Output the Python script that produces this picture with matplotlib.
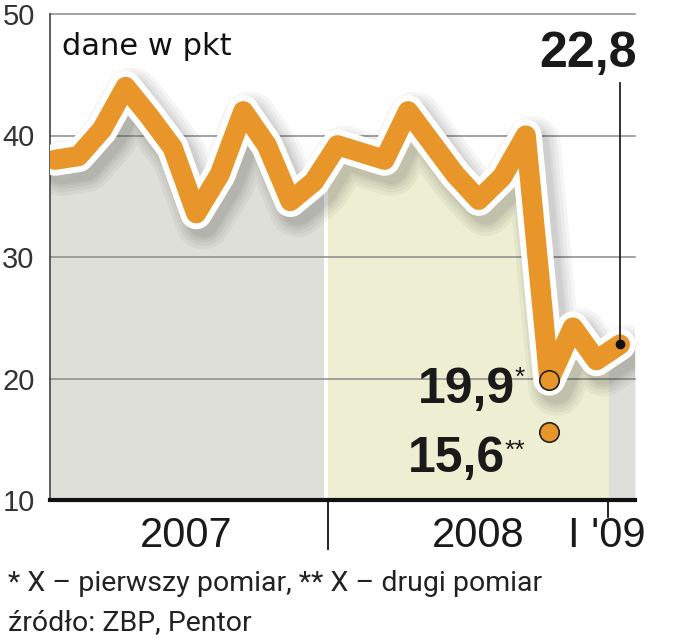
import matplotlib
matplotlib.use('Agg')
import matplotlib.pyplot as plt
import matplotlib.patheffects as pe
from matplotlib.patches import Rectangle

# monthly index, I 2007 ... I 2009
months = list(range(25))
values = [38.0, 38.3, 40.5, 44.0, 41.6, 39.0, 33.6, 36.8, 42.0, 39.2, 34.6, 36.2,
          39.2, 38.6, 38.0, 42.0, 39.4, 36.8, 34.7, 36.6, 40.0, 19.9, 24.2, 21.5, 22.8]
first_measure = 19.9    # * pierwszy pomiar
second_measure = 15.6   # ** drugi pomiar
last_value = 22.8
year_labels = ['2007', '2008', "I '09"]
y_ticks = [10, 20, 30, 40, 50]

orange = '#E8962A'
gray_fill = '#DFDFD9'
yellow_fill = '#EEEED3'

fig = plt.figure(figsize=(6.75, 6.4), dpi=100)
ax = fig.add_axes([50 / 675, 1 - 500 / 640, 585 / 675, 486 / 640])
x0, x1 = -0.21, 24.64
ax.set_xlim(x0, x1)
ax.set_ylim(10, 50)

# area under the line, split into year bands
x_ext = [x0] + months + [x1]
v_ext = [values[0]] + values + [values[-1]]
bands = [(x0, 11.38, gray_fill), (11.6, 23.55, yellow_fill), (23.55, x1, gray_fill)]
for a, b, col in bands:
    poly = ax.fill_between(x_ext, 10, v_ext, color=col, lw=0, zorder=1)
    poly.set_clip_path(Rectangle((a, 10), b - a, 40, transform=ax.transData))

for t in y_ticks[1:]:
    ax.axhline(t, color='#8a8a8a', lw=1.1, zorder=1.5, clip_on=False)

# main line: soft shadow, white outline, orange stroke
shadows = [pe.SimpleLineShadow(offset=(5, -6), shadow_color='black', alpha=0.04, linewidth=w)
           for w in (40, 35, 30, 26, 23)]
ax.plot(months, values, color=orange, lw=14.5, solid_joinstyle='round', solid_capstyle='round',
        zorder=3, path_effects=shadows + [pe.Stroke(linewidth=23, foreground='white'), pe.Normal()])

ax.plot([21], [first_measure], 'o', ms=14, mfc=orange, mec='#222', mew=1.2, zorder=5)
ax.plot([21], [second_measure], 'o', ms=14, mfc=orange, mec='#222', mew=1.2, zorder=5)
ax.plot([24, 24], [last_value, 44.3], color='#222', lw=1.3, zorder=4)
ax.plot([24], [last_value], 'o', ms=6, color='#111', zorder=6)

bold = dict(fontsize=36, weight='bold', family='Liberation Sans', color='#1a1a1a', va='baseline')
ax.text(24.72, 45.6, '22,8', ha='right', **bold)
ax.text(19.54, 18.0, '19,9', ha='right', **bold)
ax.text(19.12, 12.3, '15,6', ha='right', **bold)
ax.text(19.52, 21.0, '*', fontsize=19, family='Liberation Sans', va='top', color='#1a1a1a')
ax.text(19.12, 15.0, '**', fontsize=19, family='Liberation Sans', va='top', color='#1a1a1a')

ax.text(0.3, 46.6, 'dane w pkt', fontsize=22, family='DejaVu Sans', color='#111', va='baseline')

# year labels and separators below the axis
for xc, lbl in zip([5.56, 18.0, 23.45], year_labels):
    ax.text(xc, 6.1, lbl, ha='center', va='baseline', fontsize=30, family='Liberation Sans',
            color='#1a1a1a')
ax.plot([11.6, 11.6], [10, 6.0], color='#111', lw=1.3, clip_on=False)
ax.plot([23.5, 23.5], [10, 8.6], color='#111', lw=1.3, clip_on=False)

ax.spines['top'].set_visible(False)
ax.spines['right'].set_visible(False)
ax.spines['left'].set_color('#444')
ax.spines['left'].set_linewidth(1.2)
ax.spines['bottom'].set_color('#111')
ax.spines['bottom'].set_linewidth(3)
ax.spines['bottom'].set_zorder(4)
ax.set_xticks([])
ax.set_yticks(y_ticks)
ax.tick_params(axis='y', length=0, pad=11, labelsize=21, labelcolor='#333')
for lbl in ax.get_yticklabels():
    lbl.set_family('Liberation Sans')

foot = dict(fontsize=20.5, family=['Roboto', 'DejaVu Sans'], color='#222')
fig.text(8 / 675, 1 - 591 / 640, '* X – pierwszy pomiar, ** X – drugi pomiar', **foot)
fig.text(8 / 675, 1 - 630 / 640, 'źródło: ZBP, Pentor', **foot)

fig.savefig('out.png', dpi=100)
